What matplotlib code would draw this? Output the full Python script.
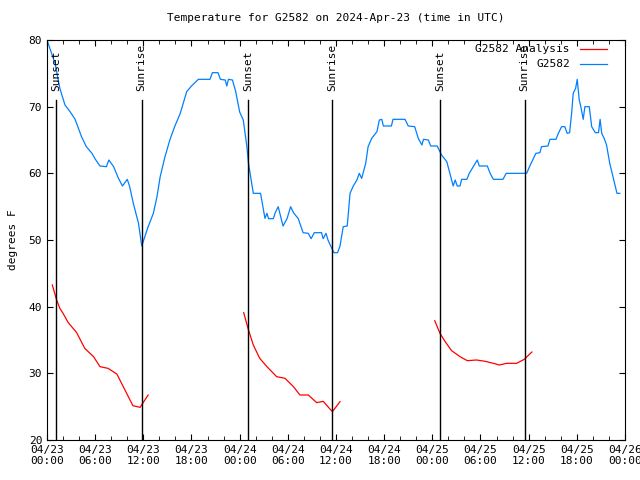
import matplotlib
matplotlib.use("Agg")
import matplotlib.pyplot as plt
import numpy as np

# hours since 2024-04-23 00:00 UTC
obs_h = [0.0, 1.0, 1.6, 2.24, 2.87, 3.5, 4.3, 4.9, 5.6, 6.0, 6.6, 7.4, 7.7, 8.3, 8.9, 9.4, 10.0, 10.3,
         10.75, 11.4, 11.8, 12.6, 13.25, 13.7, 14.1, 14.7, 15.3, 15.9, 16.6, 17.4, 18.0, 18.85, 20.3,
         20.6, 21.3, 21.6, 22.2, 22.4, 22.6, 23.1, 23.5, 24.0, 24.45, 24.9, 25.1, 25.7, 26.6, 27.15,
         27.4, 27.6, 28.2, 28.4, 28.8, 29.4, 29.9, 30.35, 30.7, 31.3, 31.9, 32.55, 32.9, 33.3, 34.2,
         34.4, 34.75, 35.0, 35.3, 35.75, 36.2, 36.5, 36.9, 37.4, 37.75, 38.15, 38.6, 38.9, 39.2, 39.7,
         40.0, 40.45, 41.1, 41.4, 41.7, 41.9, 42.9, 43.1, 44.6, 45.0, 45.8, 46.25, 46.7, 46.9, 47.5,
         47.8, 48.6, 49.15, 49.8, 50.4, 50.6, 50.85, 51.1, 51.45, 51.65, 52.3, 52.6, 53.1, 53.6, 53.85,
         54.85, 55.2, 55.6, 56.8, 57.2, 59.75, 60.2, 60.6, 60.9, 61.4, 61.6, 62.4, 62.65, 63.4, 63.7,
         64.1, 64.5, 64.8, 65.1, 65.35, 65.55, 65.85, 66.05, 66.3, 66.5, 66.8, 67.0, 67.55, 67.85,
         68.3, 68.7, 68.9, 69.1, 69.4, 69.7, 70.1, 70.45, 70.7, 71.0, 71.35]
obs_t = [80, 76.5, 72.75, 70.25, 69.25, 68.1, 65.5, 64, 63, 62.15, 61.1, 61, 62, 61, 59.25, 58.1, 59.1, 58,
         55.5, 52.5, 49.1, 52, 54, 56.5, 59.5, 62.5, 65, 67, 69, 72.25, 73.1, 74.1, 74.1,
         75.1, 75.1, 74.1, 74, 73.1, 74.1, 74, 72.3, 69.2, 68, 64, 61.5, 57, 57, 53.25,
         54, 53.2, 53.2, 54, 55, 52.1, 53.2, 55, 54.1, 53.2, 51.1, 51, 50.2, 51.1, 51.1,
         50.2, 51, 50, 49.2, 48.1, 48.1, 49.1, 52, 52.1, 57, 58.1, 59, 60, 59.25, 61.5,
         64, 65.25, 66.25, 68, 68.1, 67.1, 67.1, 68.1, 68.1, 67.1, 67, 65.25, 64.25, 65.1, 65,
         64.1, 64.1, 62.75, 61.75, 59, 58.1, 59, 58.1, 58.1, 59.1, 59.1, 60, 61, 62, 61.1,
         61.1, 60, 59.1, 59.1, 60, 60, 61.25, 62.25, 63, 63.1, 64, 64.1, 65.1, 65.1, 66,
         67, 67, 66, 66.1, 69, 72, 72.75, 74.1, 71, 70, 68.1, 70, 70, 67,
         66.1, 66.1, 68.1, 66, 65.25, 64.25, 61.5, 59.75, 58.5, 57, 57]

an1_h = [0.66, 1.2, 1.6, 2.0, 2.65, 3.7, 4.7, 5.8, 6.6, 7.6, 8.7, 9.5, 10.7, 11.6, 12.6]
an1_t = [43.25, 41, 39.75, 39, 37.6, 36.1, 33.75, 32.5, 31, 30.75, 29.9, 28, 25.15, 24.9, 26.75]
an2_h = [24.5, 25.1, 25.7, 26.5, 27.4, 28.6, 29.65, 30.7, 31.5, 32.55, 33.6, 34.4, 35.55, 36.5]
an2_t = [39.1, 36.5, 34.25, 32.25, 31, 29.5, 29.25, 28, 26.75, 26.75, 25.6, 25.8, 24.25, 25.75]
an3_h = [48.3, 48.95, 49.6, 50.4, 51.45, 52.35, 53.5, 54.6, 55.6, 56.35, 57.25, 58.5, 59.45, 60.4]
an3_t = [37.9, 36, 34.75, 33.4, 32.5, 31.9, 32, 31.8, 31.5, 31.25, 31.5, 31.5, 32.1, 33.2]

sun_h = [1.12, 11.8, 25.07, 35.54, 48.99, 59.5]
sun_labels = ["Sunset", "Sunrise", "Sunset", "Sunrise", "Sunset", "Sunrise"]

xtick_h = [0, 6, 12, 18, 24, 30, 36, 42, 48, 54, 60, 66, 72]
xtick_labels = ["04/23\n00:00", "04/23\n06:00", "04/23\n12:00", "04/23\n18:00",
                "04/24\n00:00", "04/24\n06:00", "04/24\n12:00", "04/24\n18:00",
                "04/25\n00:00", "04/25\n06:00", "04/25\n12:00", "04/25\n18:00",
                "04/26\n00:00"]

plt.rcParams['font.family'] = 'DejaVu Sans Mono'
plt.rcParams['font.size'] = 8

fig = plt.figure(figsize=(6.4, 4.8), dpi=100)
ax = fig.add_axes([47/640, 1-440/480, 578/640, 400/480])

red = '#ff0000'
blue = '#0080ff'
first = True
for h, t in [(an1_h, an1_t), (an2_h, an2_t), (an3_h, an3_t)]:
    ax.plot(h, t, color=red, lw=0.9, label='G2582 Analysis' if first else None)
    first = False
ax.plot(obs_h, obs_t, color=blue, lw=0.9, label='G2582')

for h, lab in zip(sun_h, sun_labels):
    ax.plot([h, h], [20, 71.0], color='black', lw=1.0)
    ax.text(h, 72.3, lab, rotation=90, ha='center', va='bottom', fontsize=8)

ax.set_xlim(0, 72)
ax.set_ylim(20, 80)
ax.set_xticks(xtick_h)
ax.set_xticklabels(xtick_labels)
ax.set_xticks(np.arange(0, 73, 2), minor=True)
ax.set_yticks(np.arange(20, 81, 10))
ax.tick_params(axis='both', which='both', direction='in', top=True, right=True, length=4)
ax.tick_params(axis='x', which='minor', length=3)
ax.set_ylabel('degrees F', labelpad=8)
ax.set_title('Temperature for G2582 on 2024-Apr-23 (time in UTC)', fontsize=8, pad=14)

leg = ax.legend(loc='upper right', frameon=False, markerfirst=False, handlelength=2.4,
                borderaxespad=0.0, borderpad=0.4, labelspacing=0.45, handletextpad=0.9,
                bbox_to_anchor=(1 - 14/578, 1.0))

fig.savefig('out.png', dpi=100)
